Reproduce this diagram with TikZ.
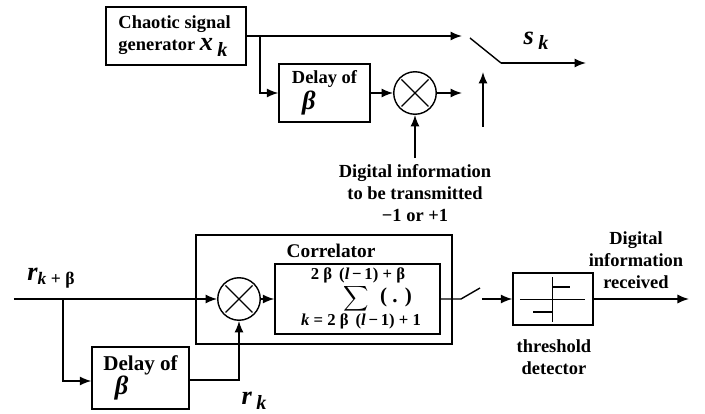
\documentclass[tikz,border=0pt]{standalone}
\usepackage{fontspec}
\setmainfont{Liberation Serif}
\usetikzlibrary{shapes,arrows.meta,positioning,fit}
\newcommand{\symbsub}[2]{{\bfseries\itshape\fontsize{15}{15}\selectfont #1\,\raisebox{-.45ex}{\fontsize{11.5}{11.5}\selectfont #2}}}
\newcommand{\symbbeta}{{\bfseries\itshape\fontsize{15}{15}\selectfont β}}
\tikzstyle{block} = [rectangle, draw, line width=0.8pt, inner sep=0pt, align=left]
\tikzstyle{mixer} = [circle, draw, line width=0.8pt, minimum size=0.85cm, inner sep=0pt,
    path picture={\draw ([shift={(-.27,-.27)}]path picture bounding box.center) -- ([shift={(.27,.27)}]path picture bounding box.center);
    \draw ([shift={(-.27,.27)}]path picture bounding box.center) -- ([shift={(.27,-.27)}]path picture bounding box.center);}]
\tikzstyle{line} = [draw, line width=0.8pt]
\tikzstyle{flow} = [draw, line width=0.8pt, -{Latex[length=2.3mm,width=1.8mm]}]
\tikzstyle{every node}=[font=\fontsize{10.5}{12.5}\selectfont\bfseries]
\tikzstyle{limit} = [font=\fontsize{9.5}{10}\selectfont\bfseries, inner sep=0pt]
\begin{document}
\begin{tikzpicture}[auto]
	\useasboundingbox (0,0) rectangle (14.1,8.28);
	% Transmitter
	\node [block, minimum width=2.8cm, minimum height=1.16cm] (chaos) at (3.52,7.56) {Chaotic signal\\generator \symbsub{x}{k}\hspace*{.12cm}};
	\node [block, minimum width=1.82cm, minimum height=1.16cm] (delay1) at (6.49,6.42) {Delay of\\[1pt]\hspace*{.55em}\symbbeta};
	\node [mixer] (mix1) at (8.3,6.42) {};
	\node [align=center] (info) at (8.3,4.42) {Digital information\\to be transmitted\\−1 or +1};
	\coordinate (tap1) at (5.2,7.56);
	\coordinate (top1) at (9.24,7.56);
	\coordinate (low1) at (9.24,6.42);
	\coordinate (swa1) at (9.4,7.52);
	\coordinate (swb1) at (10.02,7.02);
	\coordinate (out1) at (11.72,7.02);
	\coordinate (ctrlb) at (9.66,5.74);
	\coordinate (ctrlt) at (9.66,6.84);
	\node (sk) at (10.72,7.46) {\symbsub{s}{k}};
	
	\path [line] (chaos.east) -- (tap1);
	\path [flow] (tap1) -- (top1);
	\path [flow] (tap1) |- (delay1.west);
	\path [flow] (delay1.east) -- (mix1.west);
	\path [flow] (mix1.east) -- (low1);
	\path [flow] (info.north) -- (mix1.south);
	\path [line] (swa1) -- (swb1);
	\path [flow] (swb1) -- (out1);
	\path [flow] (ctrlb) -- (ctrlt);
	
	% Receiver
	\node [block, line width=0.6pt, minimum width=5.12cm, minimum height=2.18cm] (corr) at (6.48,2.49) {};
	\node [font=\fontsize{11}{12}\selectfont\bfseries] (corrlabel) at (6.62,3.26) {Correlator};
	\node [block, minimum width=3.3cm, minimum height=1.4cm] (sumbox) at (7.15,2.3) {};
	\node [limit] (sumtop) at (7.16,2.78) {2 β \,(\textit{l}\,−\,1) + β};
	\node [font=\fontsize{10}{12}\selectfont, inner sep=0pt] (sigma) at (7.12,2.3) {$\displaystyle\sum$};
	\node [font=\fontsize{12}{12}\selectfont\bfseries] (dot) at (7.92,2.34) {( . )};
	\node [limit] (sumbot) at (7.22,1.86) {\textit{k} = 2 β \,(\textit{l}\,−\,1) + 1};
	\node [mixer] (mix2) at (4.78,2.3) {};
	\node [block, font=\fontsize{12}{14}\selectfont\bfseries, minimum width=1.94cm, minimum height=1.24cm] (delay2) at (2.81,0.72) {Delay of\\\hspace*{.55em}\symbbeta};
	\node [block, minimum width=1.6cm, minimum height=1.04cm] (thr) at (11.06,2.3) {};
	\coordinate (in2) at (0.28,2.3);
	\coordinate (tap2) at (1.26,2.3);
	\coordinate (swa2) at (9.22,2.3);
	\coordinate (swb2) at (9.6,2.52);
	\coordinate (swc2) at (9.64,2.3);
	\coordinate (out2) at (13.78,2.3);
	\node [inner sep=0pt] (rin) at (1.02,2.72) {{\bfseries\itshape\fontsize{15}{15}\selectfont r}\raisebox{-.5ex}{\fontsize{10}{10}\selectfont\textit{k} + β}};
	\node (rk) at (5.08,0.26) {\symbsub{r}{k}};
	\node [align=center] (digital) at (12.72,3.08) {\fontsize{10.5}{13.4}\selectfont Digital\\information\\received};
	\node [align=center] (detector) at (11.08,1.14) {\fontsize{10.5}{13.2}\selectfont threshold\\detector};
	
	\path [flow] (in2) -- (mix2.west);
	\path [flow] (tap2) |- ([yshift=-.06cm]delay2.west);
	\path [flow] ([yshift=-.04cm]delay2.east) -| (mix2.south);
	\path [flow] (mix2.east) -- (sumbox.west);
	\path [line] (sumbox.east) -- (swa2) -- (swb2);
	\path [flow] (swc2) -- (thr.west);
	\path [flow] (thr.east) -- (out2);
	
	% Threshold curve
	\draw [line width=0.4pt] (10.4,2.3) -- (11.7,2.3);
	\draw [line width=0.4pt] (11.04,1.84) -- (11.04,2.74);
	\draw [line width=0.9pt] (11.06,2.54) -- (11.4,2.54);
	\draw [line width=0.9pt] (10.66,2.04) -- (11.04,2.04);
\end{tikzpicture}
\end{document}
